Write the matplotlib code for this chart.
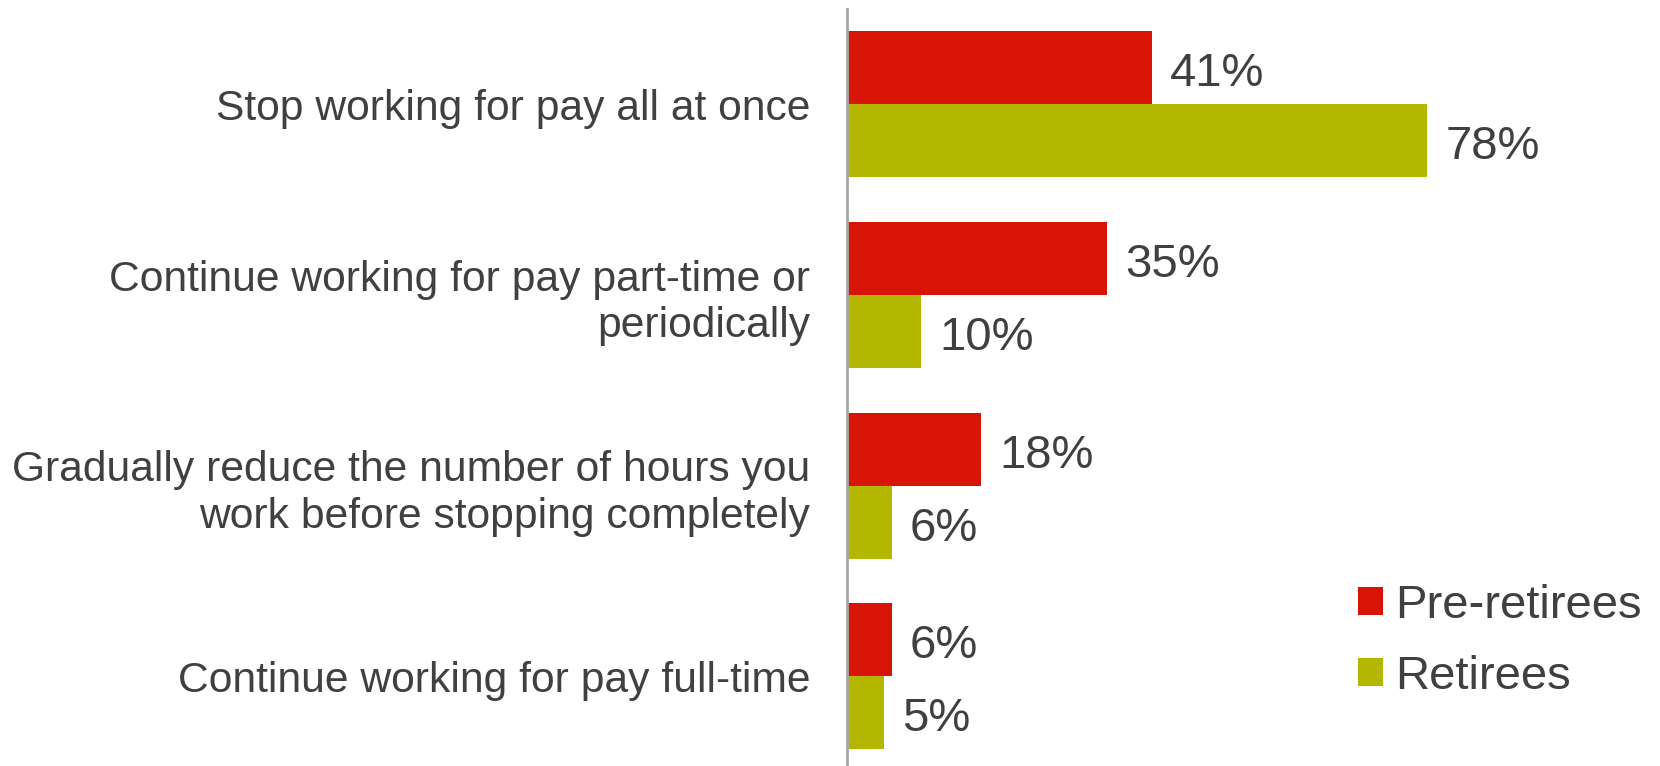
import matplotlib
matplotlib.use("Agg")
import matplotlib.pyplot as plt
from matplotlib.patches import Patch
import numpy as np

categories = [
    "Stop working for pay all at once",
    "Continue working for pay part-time or\nperiodically",
    "Gradually reduce the number of hours you\nwork before stopping completely",
    "Continue working for pay full-time",
]
pre_retirees = [41, 35, 18, 6]
retirees = [78, 10, 6, 5]
series_names = ["Pre-retirees", "Retirees"]

RED = "#D71405"
GREEN = "#B3B700"
TXT = "#404040"

plt.rcParams['font.family'] = ['Liberation Sans', 'DejaVu Sans']

W, H = 1660, 766
fig = plt.figure(figsize=(W / 100, H / 100), dpi=100)
ax_left = 847 / W
ax = fig.add_axes([ax_left, 0.0, 1 - ax_left, 1 - 9 / H])

y = np.arange(len(categories))
bh = 0.383
ax.barh(y - bh / 2, pre_retirees, height=bh, color=RED, label=series_names[0])
ax.barh(y + bh / 2, retirees, height=bh, color=GREEN, label=series_names[1])

ax.set_ylim(3.47, -0.5)
ax.set_xlim(0, (W - 847) / 7.44)

fs = 34
for yi, v in zip(y - bh / 2, pre_retirees):
    ax.annotate(f"{v}%", xy=(v, yi), xytext=(13, -13.3), textcoords='offset points',
                va='baseline', ha='left', fontsize=fs, color=TXT)
for yi, v in zip(y + bh / 2, retirees):
    ax.annotate(f"{v}%", xy=(v, yi), xytext=(13, -13.3), textcoords='offset points',
                va='baseline', ha='left', fontsize=fs, color=TXT)

ax.set_yticks(y)
ax.set_yticklabels(categories, fontsize=30.7, color=TXT, linespacing=1.22)
for lbl in ax.get_yticklabels():
    if "\n" in lbl.get_text():
        lbl.set_y(lbl.get_position()[1])
ax.tick_params(axis='y', length=0, pad=26.6)
ax.set_xticks([])
for s in ['top', 'right', 'bottom']:
    ax.spines[s].set_visible(False)
ax.spines['left'].set_color('#A6A6A6')
ax.spines['left'].set_linewidth(2)

handles = [Patch(facecolor=RED), Patch(facecolor=GREEN)]
leg = fig.legend(handles, series_names, loc='upper left',
                 bbox_to_anchor=(1358 / W, 1 - 584 / H), frameon=False,
                 fontsize=fs, handlelength=0.53, handleheight=0.53,
                 handletextpad=0.25, labelspacing=0.57, borderpad=0,
                 borderaxespad=0)
for t in leg.get_texts():
    t.set_color(TXT)

fig.savefig("out.png", dpi=100)
